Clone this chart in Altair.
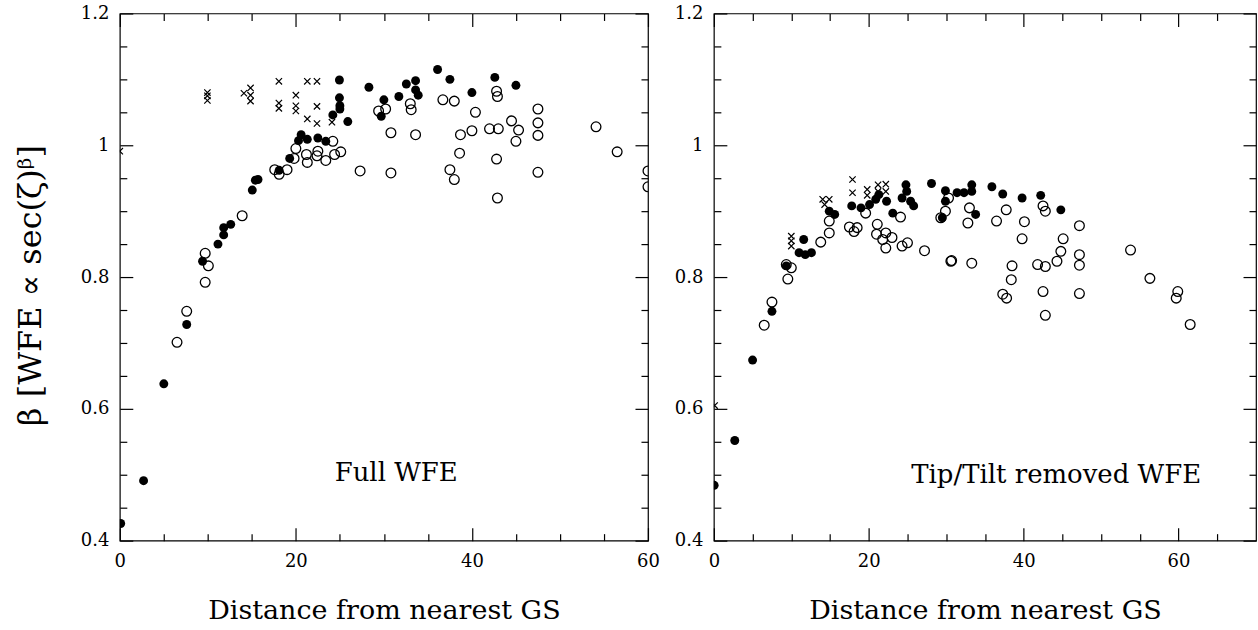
import altair as alt
import pandas as pd

FONT = "DejaVu Serif"

# ---------------- Left panel: Full WFE ----------------
L_filled_x = [0.1, 2.7, 5.0, 7.6, 9.4, 11.15, 11.8, 11.8, 12.6, 15.05, 15.4, 15.7, 18.1, 19.3,
              20.3, 20.6, 21.3, 22.5, 23.4, 24.2, 24.95, 24.95, 25.0, 25.0, 25.9, 28.3, 29.7,
              30.0, 31.7, 32.55, 33.6, 33.6, 33.9, 36.1, 37.5, 40.0, 42.6, 45.0]
L_filled_y = [0.426, 0.491, 0.638, 0.728, 0.824, 0.850, 0.864, 0.875, 0.880, 0.932, 0.947, 0.948,
              0.962, 0.980, 1.007, 1.016, 1.009, 1.011, 1.006, 1.046, 1.099, 1.072, 1.060, 1.055,
              1.036, 1.088, 1.044, 1.069, 1.074, 1.093, 1.098, 1.084, 1.076, 1.115, 1.100, 1.080,
              1.103, 1.091]

L_open_x = [6.5, 7.6, 9.7, 9.7, 10.06, 13.9, 17.6, 18.1, 19.0, 19.8, 20.0, 21.2, 21.3, 22.5, 22.4,
            23.4, 24.2, 24.4, 25.1, 27.3, 29.4, 30.2, 30.8, 30.8, 33.0, 33.1, 33.6, 36.7, 38.0,
            37.5, 38.0, 38.6, 38.7, 40.0, 40.4, 42.0, 43.0, 42.8, 42.9, 42.8, 42.9, 44.5, 45.3,
            45.0, 47.5, 47.5, 47.5, 47.5, 54.1, 56.5, 60.0, 60.0]
L_open_y = [0.701, 0.748, 0.792, 0.836, 0.817, 0.893, 0.963, 0.956, 0.963, 0.980, 0.995, 0.986,
            0.974, 0.991, 0.984, 0.977, 1.006, 0.986, 0.990, 0.961, 1.052, 1.055, 1.019, 0.958,
            1.063, 1.054, 1.016, 1.069, 1.067, 0.963, 0.948, 0.988, 1.016, 1.022, 1.050, 1.025,
            1.025, 1.082, 1.074, 0.979, 0.920, 1.037, 1.023, 1.006, 1.055, 1.034, 1.015, 0.959,
            1.028, 0.990, 0.961, 0.937]

L_cross_x = [0.0, 9.95, 9.95, 9.95, 14.1, 14.85, 14.85, 14.85, 18.07, 18.07, 18.07, 20.0, 20.0,
             20.0, 21.3, 21.3, 22.4, 22.4, 22.4, 24.1]
L_cross_y = [0.991, 1.080, 1.075, 1.068, 1.079, 1.087, 1.076, 1.067, 1.097, 1.064, 1.056, 1.076,
             1.060, 1.052, 1.097, 1.040, 1.097, 1.059, 1.033, 1.035]

# ---------------- Right panel: Tip/Tilt removed WFE ----------------
R_filled_x = [0.04, 2.7, 5.0, 7.5, 9.35, 11.0, 11.8, 12.6, 11.6, 14.9, 15.6, 17.8, 19.0, 20.1,
              20.9, 21.3, 22.3, 23.1, 24.3, 24.8, 24.9, 25.4, 25.8, 28.1, 29.9, 29.9, 29.5, 31.4,
              32.3, 33.3, 33.3, 33.8, 35.9, 37.3, 39.8, 42.2, 44.8]
R_filled_y = [0.484, 0.552, 0.674, 0.748, 0.817, 0.837, 0.834, 0.837, 0.857, 0.900, 0.895, 0.908,
              0.905, 0.910, 0.918, 0.925, 0.915, 0.897, 0.920, 0.940, 0.930, 0.915, 0.908, 0.942,
              0.931, 0.915, 0.890, 0.928, 0.928, 0.930, 0.940, 0.895, 0.937, 0.926, 0.920, 0.924,
              0.902]

R_open_x = [6.5, 7.5, 9.35, 10.0, 9.55, 13.8, 14.9, 14.9, 17.5, 18.1, 18.5, 19.6, 21.1, 21.0, 21.8,
            22.2, 22.2, 23.0, 24.3, 25.0, 24.1, 27.2, 29.3, 29.9, 30.3, 30.6, 30.7, 33.0, 32.8,
            33.3, 36.5, 37.75, 39.8, 40.1, 42.5, 42.8, 38.5, 38.4, 37.3, 37.8, 41.8, 42.8, 44.3,
            44.8, 45.1, 42.5, 42.8, 47.2, 47.2, 47.2, 47.2, 53.8, 56.3, 59.9, 59.7, 61.5]
R_open_y = [0.727, 0.762, 0.819, 0.814, 0.797, 0.853, 0.867, 0.885, 0.876, 0.869, 0.875, 0.897,
            0.880, 0.865, 0.857, 0.867, 0.844, 0.860, 0.847, 0.852, 0.891, 0.840, 0.890, 0.900,
            0.920, 0.824, 0.825, 0.905, 0.882, 0.821, 0.885, 0.902, 0.858, 0.884, 0.908, 0.900,
            0.817, 0.796, 0.774, 0.768, 0.819, 0.816, 0.824, 0.839, 0.858, 0.778, 0.742, 0.878,
            0.834, 0.818, 0.775, 0.841, 0.798, 0.778, 0.768, 0.728]

R_cross_x = [0.1, 10.0, 10.0, 10.0, 14.05, 14.9, 14.3, 17.9, 17.9, 19.8, 19.8, 21.2, 21.2, 22.2, 22.2]
R_cross_y = [0.605, 0.862, 0.855, 0.847, 0.918, 0.918, 0.910, 0.948, 0.928, 0.933, 0.924, 0.940,
             0.930, 0.941, 0.930]

Y_TICKS = [0.4, 0.6, 0.8, 1.0, 1.2]
Y_MINOR = [0.45, 0.5, 0.55, 0.65, 0.7, 0.75, 0.85, 0.9, 0.95, 1.05, 1.1, 1.15]
Y_MIN, Y_MAX = 0.4, 1.2

H = 528
MAJ, MIN = 13, 7          # tick lengths in px
CROSS = "M-1,-1L1,1M-1,1L1,-1"


def tick_axis(orient, vals, size):
    # a tick-only axis pulled inside the frame so its ticks point inward
    return alt.Axis(orient=orient, values=vals, ticks=True, tickSize=size, tickWidth=1.2,
                    tickColor="black", labels=False, domain=False, grid=False, title="",
                    offset=-size, minExtent=0, maxExtent=size)


def panel(fx, fy, ox, oy, cx, cy, xmax, width, note, note_x, note_y, ytitle):
    xs = alt.Scale(domain=[0, xmax], nice=False, zero=False)
    ys = alt.Scale(domain=[Y_MIN, Y_MAX], nice=False, zero=False)
    x_major = [v for v in range(0, xmax + 1, 20)]
    x_minor = [v for v in range(5, xmax, 5) if v % 20 != 0]

    xaxis = alt.Axis(orient="bottom", values=x_major, title="Distance from nearest GS",
                     ticks=False, domain=False, grid=False, labelPadding=12, labelFontSize=18,
                     titleFontSize=27, titlePadding=27, labelFlush=False, format="d")
    yaxis_kw = dict(orient="left", values=Y_TICKS, ticks=False, domain=False, grid=False,
                    labelPadding=11, labelFontSize=18, format="~g", labelFlush=False)
    if ytitle:
        yaxis = alt.Axis(title=ytitle, titleFontSize=32, titleX=-89, titleY=H / 2 + 8,
                         titleAlign="center", titleBaseline="middle", titleAngle=270,
                         **yaxis_kw)
    else:
        yaxis = alt.Axis(title="", **yaxis_kw)

    def enc(ch, xa, ya):
        return ch.encode(x=alt.X("x:Q", scale=xs, axis=xa), y=alt.Y("y:Q", scale=ys, axis=ya))

    d_open = pd.DataFrame({"x": ox, "y": oy})
    d_fill = pd.DataFrame({"x": fx, "y": fy})
    d_cross = pd.DataFrame({"x": cx, "y": cy})

    # open circles carry the labelled axes
    opn = enc(alt.Chart(d_open).mark_point(shape="circle", filled=False, stroke="black",
                                           strokeWidth=1.3, size=95, opacity=1, clip=True),
              xaxis, yaxis)
    # the other layers carry the inward major / minor tick sets of the four sides
    fil = enc(alt.Chart(d_fill).mark_point(shape="circle", filled=True, color="black",
                                           size=80, opacity=1, clip=True),
              tick_axis("bottom", x_major, MAJ), tick_axis("left", Y_TICKS, MAJ))
    crs = enc(alt.Chart(d_cross).mark_point(shape=CROSS, filled=False, stroke="black",
                                            strokeWidth=1.2, size=40, opacity=1, clip=True),
              tick_axis("bottom", x_minor, MIN), tick_axis("left", Y_MINOR, MIN))
    txt = alt.Chart(pd.DataFrame({"x": [note_x], "y": [note_y], "t": [note]})).mark_text(
        font=FONT, fontSize=26, align="center", baseline="middle", color="black").encode(
        x=alt.X("x:Q", scale=xs, axis=tick_axis("top", x_major, MAJ)),
        y=alt.Y("y:Q", scale=ys, axis=tick_axis("right", Y_TICKS, MAJ)),
        text="t:N")
    hidden = enc(alt.Chart(d_fill).mark_point(shape="circle", filled=True, color="black",
                                              size=80, opacity=0, clip=True),
                 tick_axis("top", x_minor, MIN), tick_axis("right", Y_MINOR, MIN))

    return alt.layer(opn, hidden, fil, crs, txt).resolve_axis(
        x="independent", y="independent").properties(width=width, height=H)


left = panel(L_filled_x, L_filled_y, L_open_x, L_open_y, L_cross_x, L_cross_y,
             60, 529, "Full WFE", 31.4, 0.503, "β [WFE ∝ sec(ζ)ᵝ]")
right = panel(R_filled_x, R_filled_y, R_open_x, R_open_y, R_cross_x, R_cross_y,
              70, 543, "Tip/Tilt removed WFE", 44.2, 0.50, None)

chart = alt.hconcat(left, right, spacing=66, bounds="flush").properties(
    autosize=alt.AutoSizeParams(type="pad"),
    padding={"left": 14, "top": 3, "right": 0, "bottom": 0},
    background="white",
).configure_view(stroke="black", strokeWidth=1.2).configure_axis(
    labelFont=FONT, titleFont=FONT, labelColor="black", titleColor="black",
    titleFontWeight="normal")

chart.save("out.html", embed_options={"renderer": "svg", "actions": False})
